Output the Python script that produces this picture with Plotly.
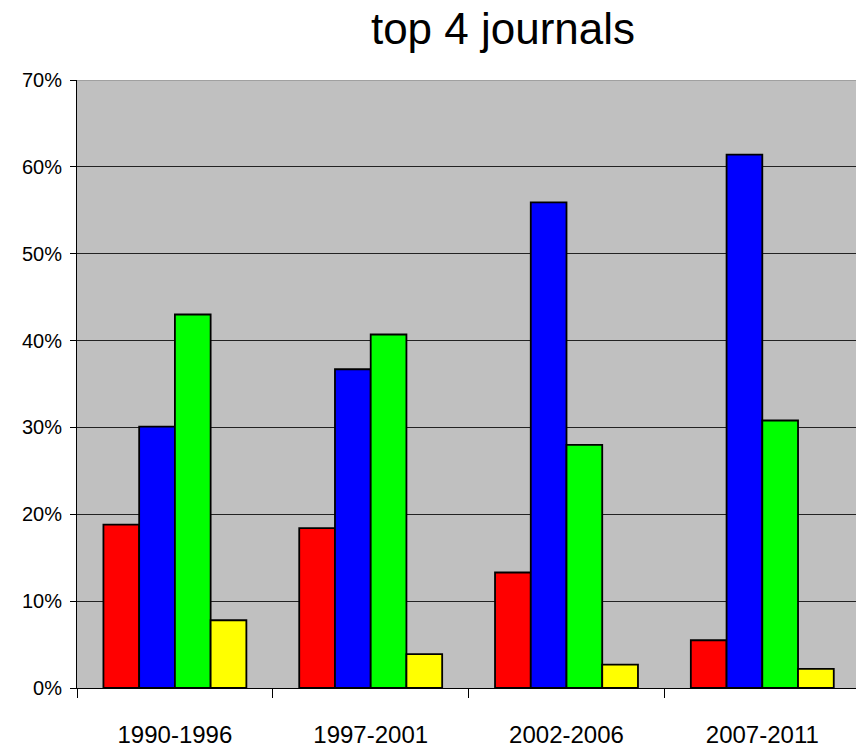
import plotly.graph_objects as go

periods = ["1990-1996", "1997-2001", "2002-2006", "2007-2011"]
series_red = [18.8, 18.4, 13.3, 5.5]
series_blue = [30.1, 36.7, 55.9, 61.4]
series_green = [43.0, 40.7, 28.0, 30.8]
series_yellow = [7.8, 3.9, 2.7, 2.2]
y_ticks = [0, 10, 20, 30, 40, 50, 60, 70]
y_tick_labels = [f"{v}%" for v in y_ticks]

fig = go.Figure()
for name, vals, col in [("red", series_red, "#FF0000"),
                        ("blue", series_blue, "#0000FF"),
                        ("green", series_green, "#00FF00"),
                        ("yellow", series_yellow, "#FFFF00")]:
    fig.add_trace(go.Bar(x=periods, y=vals, name=name,
                         marker=dict(color=col, line=dict(color="black", width=1.8))))

W, H = 856, 747
left, top, bottom = 77, 80, 688
fig.update_layout(
    width=W, height=H,
    margin=dict(l=left, r=0, t=top, b=H - bottom, pad=0),
    paper_bgcolor="white", plot_bgcolor="#C0C0C0",
    barmode="group", bargap=0.27, bargroupgap=0,
    showlegend=False,
    font=dict(family="Liberation Sans, Arial, sans-serif", color="black"),
    title=dict(text="top 4 journals", x=503 / W, xanchor="center",
               y=1 - 29 / H, yanchor="middle", xref="container", yref="container",
               font=dict(size=44, family="Liberation Sans, Arial, sans-serif", color="black")),
)
fig.update_xaxes(
    type="category", range=[-0.5, -0.5 + (W - left) / 195.8],
    tickson="boundaries", ticks="outside", ticklen=9, tickcolor="black", tickwidth=1,
    showline=True, linecolor="black", linewidth=1,
    showgrid=False, tickfont=dict(size=24), ticklabelstandoff=25,
)
fig.update_yaxes(
    range=[0, 70], tickvals=y_ticks, ticktext=y_tick_labels,
    ticks="outside", ticklen=6, tickcolor="black", tickwidth=1,
    showline=True, linecolor="black", linewidth=1,
    showgrid=True, gridcolor="#222222", gridwidth=1,
    zeroline=False, tickfont=dict(size=20), ticklabelstandoff=4,
)
fig.add_shape(type="line", xref="paper", yref="y", x0=0, x1=1, y0=70, y1=70,
              line=dict(color="#A0A0A0", width=2))
fig.write_html("out.html", config={"displayModeBar": False},
               post_script="document.body.style.margin='0';document.body.style.overflow='hidden';")
